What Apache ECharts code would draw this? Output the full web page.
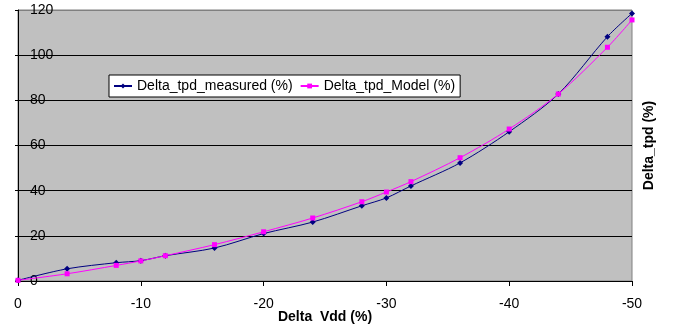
<!DOCTYPE html>
<html>
<head>
<meta charset="utf-8">
<script src="https://cdn.jsdelivr.net/npm/echarts@6/dist/echarts.min.js"></script>
<style>
  html, body { margin: 0; padding: 0; background: #fff; }
  #chart { width: 680px; height: 324px; }
</style>
</head>
<body>
<div id="chart"></div>
<script>
// Delta Vdd (%) sample points
const vdd = [0, -4, -8, -10, -12, -16, -20, -24, -28, -30, -32, -36, -40, -44, -48, -50];
// Delta_tpd measured / model (%)
const measured = [0.3, 5.4, 8.1, 9.0, 11.2, 14.6, 21.0, 26.1, 33.3, 36.8, 42.1, 52.3, 66.1, 82.8, 108.2, 118.5];
const model = [0.3, 3.2, 6.9, 8.9, 11.2, 16.1, 21.8, 27.9, 35.1, 39.4, 44.0, 54.6, 67.3, 82.8, 103.5, 115.6];
const seriesNames = ['Delta_tpd_measured (%)', 'Delta_tpd_Model (%)'];

const font = 'Liberation Sans, Arial, sans-serif';

const chart = echarts.init(document.getElementById('chart'));
chart.setOption({
    animation: false,
    textStyle: { fontFamily: font },
    grid: {
        left: 18, right: 48, top: 10, bottom: 43,
        outerBoundsMode: 'none',
        containLabel: false,
        show: true,
        backgroundColor: '#C0C0C0',
        borderColor: '#808080',
        borderWidth: 1
    },
    legend: {
        left: 109, top: 75,
        backgroundColor: '#fff',
        borderColor: '#000',
        borderWidth: 1,
        borderRadius: 0,
        padding: [4, 5, 4, 4],
        itemWidth: 18,
        itemHeight: 6,
        itemGap: 7,
        textStyle: { fontSize: 14, color: '#000', fontFamily: font },
        data: seriesNames
    },
    xAxis: {
        type: 'value',
        min: -50, max: 0, interval: 10,
        inverse: true,
        name: 'Delta  Vdd (%)',
        nameLocation: 'middle',
        nameGap: 29,
        nameMoveOverlap: false,
        nameTextStyle: { fontSize: 14, fontWeight: 'bold', color: '#000' },
        axisLine: { show: true, lineStyle: { color: '#000', width: 1 } },
        axisTick: { show: true, length: 5, lineStyle: { color: '#000' } },
        axisLabel: { fontSize: 14, color: '#000', margin: 16 },
        splitLine: { show: false }
    },
    yAxis: [{
        type: 'value',
        min: 0, max: 120, interval: 20,
        position: 'left',
        axisLine: { show: true, lineStyle: { color: '#000', width: 1 } },
        axisTick: { show: true, inside: false, length: 3, lineStyle: { color: '#000' } },
        axisLabel: { inside: true, margin: 12, fontSize: 14, color: '#000' },
        splitLine: {
            show: true,
            lineStyle: { color: ['#000', '#000', '#000', '#000', '#000', '#000', '#808080'], width: 1 }
        }
    }, {
        type: 'value',
        min: 0, max: 120, interval: 20,
        position: 'right',
        name: 'Delta_tpd (%)',
        nameLocation: 'middle',
        nameGap: 10,
        nameRotate: 90,
        nameMoveOverlap: false,
        nameTextStyle: { fontSize: 14, fontWeight: 'bold', color: '#000' },
        axisLine: { show: false },
        axisTick: { show: false },
        axisLabel: { show: false },
        splitLine: { show: false }
    }],
    series: [{
        name: seriesNames[0],
        type: 'line',
        smooth: 0.3,
        symbol: 'diamond',
        symbolSize: 6,
        showAllSymbol: true,
        itemStyle: { color: '#000080' },
        lineStyle: { color: '#000080', width: 1 },
        data: vdd.map((v, i) => [v, measured[i]])
    }, {
        name: seriesNames[1],
        type: 'line',
        smooth: 0.3,
        symbol: 'rect',
        symbolSize: 5,
        showAllSymbol: true,
        itemStyle: { color: '#FF00FF' },
        lineStyle: { color: '#FF00FF', width: 1 },
        data: vdd.map((v, i) => [v, model[i]])
    }]
});
</script>
</body>
</html>
